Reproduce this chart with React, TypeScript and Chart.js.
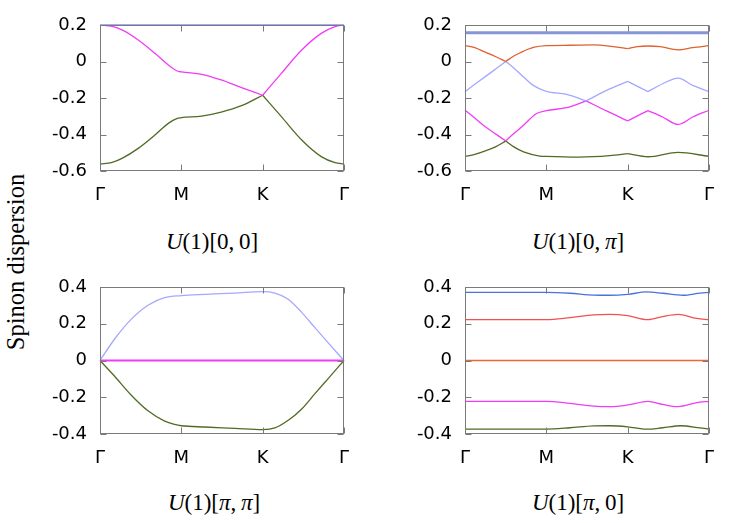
import React, { useEffect, useRef } from "react";
import Chart from "chart.js/auto";

type Pt = [number, number];

const kLabels = ["Γ", "M", "K", "Γ"];
const kTicks = [0, 1, 2, 3];
const yTicksTop = [-0.6, -0.4, -0.2, 0, 0.2];
const yTicksBottom = [-0.4, -0.2, 0, 0.2, 0.4];

// U(1)[0,0]
const a00Top: Pt[] = [[0, 0.2], [3, 0.2]];
const a00Mid: Pt[] = [
  [0, 0.2], [0.15, 0.192], [0.27, 0.173], [0.47, 0.118], [0.675, 0.045], [0.84, -0.019],
  [0.95, -0.052], [1, -0.057], [1.25, -0.07], [1.49, -0.101], [1.74, -0.143], [2, -0.185],
  [2.23, -0.065], [2.48, 0.063], [2.72, 0.154], [2.89, 0.191], [3, 0.2],
];
const a00Low: Pt[] = [
  [0, -0.562], [0.15, -0.553], [0.27, -0.531], [0.47, -0.476], [0.675, -0.403], [0.84, -0.339],
  [0.95, -0.312], [1, -0.308], [1.25, -0.299], [1.49, -0.277], [1.74, -0.242], [2, -0.185],
  [2.23, -0.302], [2.48, -0.43], [2.72, -0.521], [2.89, -0.554], [3, -0.562],
];

// U(1)[0,pi]
const b0pTop: Pt[] = [[0, 0.158], [3, 0.158]];
const b0pOrange: Pt[] = [
  [0, 0.087], [0.12, 0.076], [0.25, 0.051], [0.38, 0.026], [0.5, 0], [0.6, 0.03], [0.68, 0.048],
  [0.84, 0.077], [1, 0.087], [1.29, 0.089], [1.58, 0.091], [1.82, 0.082], [2, 0.071], [2.12, 0.081],
  [2.25, 0.085], [2.4, 0.081], [2.62, 0.064], [2.8, 0.076], [3, 0.087],
];
const b0pLav: Pt[] = [
  [0, -0.165], [0.12, -0.125], [0.25, -0.083], [0.38, -0.04], [0.5, 0], [0.6, -0.035], [0.68, -0.068],
  [0.84, -0.131], [1, -0.164], [1.25, -0.18], [1.49, -0.216], [1.74, -0.158], [2, -0.109],
  [2.25, -0.165], [2.43, -0.122], [2.62, -0.091], [2.8, -0.131], [3, -0.165],
];
const b0pMag: Pt[] = [
  [0, -0.267], [0.12, -0.31], [0.25, -0.358], [0.38, -0.398], [0.5, -0.435], [0.6, -0.395], [0.72, -0.349],
  [0.88, -0.285], [1, -0.269], [1.25, -0.253], [1.49, -0.216], [1.74, -0.271], [2, -0.325],
  [2.25, -0.269], [2.43, -0.304], [2.62, -0.345], [2.8, -0.304], [3, -0.267],
];
const b0pGreen: Pt[] = [
  [0, -0.52], [0.12, -0.509], [0.25, -0.49], [0.38, -0.466], [0.5, -0.436], [0.6, -0.468], [0.72, -0.495],
  [0.92, -0.518], [1, -0.52], [1.41, -0.524], [1.78, -0.516], [2, -0.505], [2.25, -0.522],
  [2.62, -0.498], [3, -0.52],
];

// U(1)[pi,pi]
const cppLav: Pt[] = [
  [0, 0], [0.18, 0.117], [0.385, 0.225], [0.59, 0.301], [0.795, 0.342], [1, 0.353], [1.29, 0.36],
  [1.66, 0.367], [2, 0.375], [2.15, 0.367], [2.31, 0.335], [2.48, 0.262], [2.64, 0.18], [2.8, 0.099], [3, 0],
];
const cppMag: Pt[] = [[0, 0], [3, 0]];
const cppGreen: Pt[] = [
  [0, 0], [0.18, -0.086], [0.385, -0.189], [0.59, -0.274], [0.795, -0.33], [0.918, -0.348], [1, -0.355],
  [1.29, -0.362], [1.66, -0.369], [2, -0.376], [2.15, -0.367], [2.31, -0.327], [2.48, -0.264],
  [2.64, -0.182], [2.8, -0.101], [3, 0],
];

// U(1)[pi,0]
const dp0Blue: Pt[] = [
  [0, 0.371], [1, 0.371], [1.29, 0.366], [1.58, 0.356], [1.78, 0.355], [2, 0.36], [2.23, 0.373],
  [2.43, 0.366], [2.68, 0.355], [2.89, 0.367], [3, 0.371],
];
const dp0Red: Pt[] = [
  [0, 0.222], [1, 0.222], [1.29, 0.233], [1.58, 0.248], [1.78, 0.251], [2, 0.244], [2.25, 0.222],
  [2.43, 0.239], [2.62, 0.251], [2.85, 0.229], [3, 0.222],
];
const dp0Orange: Pt[] = [[0, 0], [3, 0]];
const dp0Mag: Pt[] = [
  [0, -0.222], [1, -0.222], [1.29, -0.233], [1.58, -0.248], [1.78, -0.251], [2, -0.242], [2.25, -0.222],
  [2.43, -0.239], [2.62, -0.251], [2.85, -0.229], [3, -0.222],
];
const dp0Green: Pt[] = [
  [0, -0.373], [1, -0.373], [1.29, -0.366], [1.58, -0.356], [1.78, -0.355], [2, -0.361], [2.23, -0.374],
  [2.43, -0.366], [2.65, -0.355], [2.89, -0.367], [3, -0.373],
];

const LAV = "#a4a8ff";
const MAG = "#f03cf6";
const GRN = "#4f6b24";

type Band = { pts: Pt[]; kinks?: number[]; color: string; width?: number };

// split a band where two bands touch, so the corner stays sharp
function split(points: Pt[], kinks: number[]): Pt[][] {
  const out: Pt[][] = [];
  let cur: Pt[] = [];
  for (const p of points) {
    cur.push(p);
    if (kinks.includes(p[0]) && cur.length > 1) {
      out.push(cur);
      cur = [p];
    }
  }
  if (cur.length > 1) out.push(cur);
  return out;
}

const frame = {
  id: "frame",
  afterDatasetsDraw(chart: any) {
    const { ctx, chartArea: a, scales } = chart;
    const L = Math.round(a.left) + 0.5;
    const R = Math.round(a.right) - 0.5;
    const T = Math.round(a.top) + 0.5;
    const B = Math.round(a.bottom) - 0.5;
    ctx.save();
    ctx.strokeStyle = "#7a7a7a";
    ctx.lineWidth = 1;
    ctx.beginPath();
    for (const t of scales.x.ticks) {
      const px = Math.round(scales.x.getPixelForValue(t.value)) + 0.5;
      ctx.moveTo(px, B); ctx.lineTo(px, B - 6);
      ctx.moveTo(px, T); ctx.lineTo(px, T + 6);
    }
    for (const t of scales.y.ticks) {
      const py = Math.round(scales.y.getPixelForValue(t.value)) + 0.5;
      ctx.moveTo(L, py); ctx.lineTo(L + 6, py);
      ctx.moveTo(R, py); ctx.lineTo(R - 6, py);
    }
    ctx.stroke();
    ctx.strokeRect(L, T, R - L, B - T);
    ctx.restore();
  },
};

const tickFont = { family: "DejaVu Sans", size: 18 };

function noPad(s: any) {
  s.paddingTop = 0;
  s.paddingBottom = 0;
  s.paddingLeft = 0;
  s.paddingRight = 0;
}

function Panel(props: { bands: Band[]; yMin: number; yMax: number; yTicks: number[]; left: number; top: number; h: number }) {
  const ref = useRef<HTMLCanvasElement | null>(null);
  const W = 60 + 244 + 16;
  const H = 15 + props.h + 40;

  useEffect(() => {
    if (!ref.current) return;
    const datasets: any[] = [];
    props.bands.forEach((b) => {
      split(b.pts, b.kinks || []).forEach((seg) => {
        datasets.push({
          data: seg.map(([x, y]) => ({ x, y })),
          borderColor: b.color,
          borderWidth: b.width || 1.3,
          pointRadius: 0,
          cubicInterpolationMode: "monotone",
          fill: false,
          clip: false,
        });
      });
    });
    const chart = new Chart(ref.current, {
      type: "line",
      data: { datasets },
      options: {
        animation: false,
        responsive: false,
        events: [],
        layout: { padding: { left: 0, top: 15, right: 16, bottom: 0 } },
        plugins: { legend: { display: false }, tooltip: { enabled: false } },
        scales: {
          x: {
            type: "linear",
            min: 0,
            max: 3,
            afterBuildTicks: (s: any) => { s.ticks = kTicks.map((v) => ({ value: v })); },
            afterFit: (s: any) => { s.height = 40; noPad(s); },
            grid: { display: false, drawTicks: false },
            border: { display: false },
            ticks: {
              callback: (_v: any, i: number) => kLabels[i],
              padding: 14,
              font: tickFont,
              color: "#000",
              maxRotation: 0,
              autoSkip: false,
            },
          },
          y: {
            type: "linear",
            min: props.yMin,
            max: props.yMax,
            afterBuildTicks: (s: any) => { s.ticks = props.yTicks.map((v) => ({ value: v })); },
            afterFit: (s: any) => { s.width = 60; noPad(s); },
            grid: { display: false, drawTicks: false },
            border: { display: false },
            ticks: {
              callback: (v: any) => String(v),
              padding: 13,
              font: tickFont,
              color: "#000",
            },
          },
        },
      },
      plugins: [frame],
    });
    return () => chart.destroy();
  }, []);

  return (
    <canvas
      ref={ref}
      width={W}
      height={H}
      style={{ position: "absolute", left: props.left - 60, top: props.top - 15, width: W, height: H }}
    />
  );
}

const serif = "'Liberation Serif', 'Times New Roman', serif";

function Caption(props: { x: number; y: number; children: React.ReactNode }) {
  return (
    <div
      style={{
        position: "absolute",
        left: props.x,
        top: props.y,
        transform: "translate(-50%, -50%)",
        fontFamily: serif,
        fontSize: 23,
        lineHeight: "23px",
        whiteSpace: "nowrap",
        color: "#000",
      }}
    >
      {props.children}
    </div>
  );
}

export default function App() {
  return (
    <div style={{ position: "absolute", left: 0, top: 0, width: 747, height: 523, background: "#fff", overflow: "hidden" }}>
      <div
        style={{
          position: "absolute",
          left: 16,
          top: 262,
          transform: "translate(-50%, -50%) rotate(-90deg)",
          fontFamily: serif,
          fontSize: 24.5,
          whiteSpace: "nowrap",
          color: "#000",
        }}
      >
        Spinon dispersion
      </div>

      <Panel
        left={100}
        top={25}
        h={146}
        yMin={-0.6}
        yMax={0.2}
        yTicks={yTicksTop}
        bands={[
          { pts: a00Top, color: LAV, width: 2 },
          { pts: a00Mid, kinks: [2], color: MAG },
          { pts: a00Low, kinks: [2], color: GRN },
        ]}
      />
      <Panel
        left={465}
        top={25}
        h={146}
        yMin={-0.6}
        yMax={0.2}
        yTicks={yTicksTop}
        bands={[
          { pts: b0pTop, color: "#8496d6", width: 3 },
          { pts: b0pOrange, kinks: [0.5, 2], color: "#e0602e" },
          { pts: b0pLav, kinks: [0.5, 1.49, 2, 2.25], color: LAV },
          { pts: b0pMag, kinks: [0.5, 1.49, 2, 2.25], color: MAG },
          { pts: b0pGreen, kinks: [0.5, 2], color: GRN },
        ]}
      />
      <Panel
        left={100}
        top={287}
        h={147}
        yMin={-0.4}
        yMax={0.4}
        yTicks={yTicksBottom}
        bands={[
          { pts: cppLav, color: LAV },
          { pts: cppGreen, color: GRN },
          { pts: cppMag, color: MAG, width: 2 },
        ]}
      />
      <Panel
        left={465}
        top={287}
        h={147}
        yMin={-0.4}
        yMax={0.4}
        yTicks={yTicksBottom}
        bands={[
          { pts: dp0Blue, color: "#4a72dc" },
          { pts: dp0Red, color: "#f05252" },
          { pts: dp0Orange, color: "#f0643a", width: 1.6 },
          { pts: dp0Mag, color: MAG },
          { pts: dp0Green, color: GRN },
        ]}
      />

      <Caption x={212} y={241}><i>U</i>(1)[0,&#8201;0]</Caption>
      <Caption x={578} y={241}><i>U</i>(1)[0,&#8201;<i>π</i>]</Caption>
      <Caption x={214} y={502}><i>U</i>(1)[<i>π</i>,&#8201;<i>π</i>]</Caption>
      <Caption x={578} y={502}><i>U</i>(1)[<i>π</i>,&#8201;0]</Caption>
    </div>
  );
}
